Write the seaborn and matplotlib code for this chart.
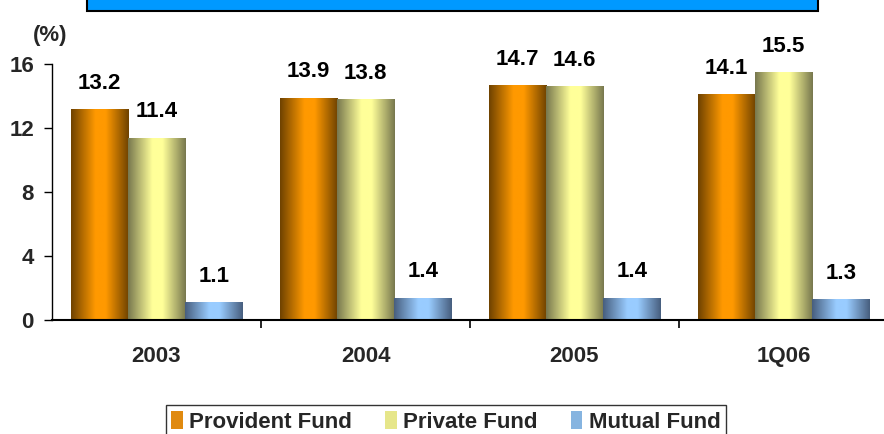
import numpy as np
import pandas as pd
import matplotlib
matplotlib.use("Agg")
import matplotlib.pyplot as plt
from matplotlib.colors import LinearSegmentedColormap
from matplotlib.patches import Rectangle
import seaborn as sns

categories = ["2003", "2004", "2005", "1Q06"]
series_names = ["Provident Fund", "Private Fund", "Mutual Fund"]
provident = [13.2, 13.9, 14.7, 14.1]
private = [11.4, 13.8, 14.6, 15.5]
mutual = [1.1, 1.4, 1.4, 1.3]
y_ticks = [0, 4, 8, 12, 16]

df = pd.DataFrame({
    "Year": categories * 3,
    "Fund": [series_names[0]] * 4 + [series_names[1]] * 4 + [series_names[2]] * 4,
    "Value": provident + private + mutual,
})

dark = {"Provident Fund": "#6E4200", "Private Fund": "#77774E", "Mutual Fund": "#475E7E"}
light = {"Provident Fund": "#FF9900", "Private Fund": "#FFFF99", "Mutual Fund": "#99CCFF"}
mid = {"Provident Fund": "#E08A10", "Private Fund": "#E6E68A", "Mutual Fund": "#86B4E0"}

sns.set_theme(style="white")
plt.rcParams["font.family"] = ["Liberation Sans", "DejaVu Sans"]
plt.rcParams["font.weight"] = "bold"

FS = 16

fig = plt.figure(figsize=(8.84, 4.34), dpi=100)
W, H = 884, 434
ax = fig.add_axes([52 / W, (H - 320) / H, 836 / W, 256 / H])

sns.barplot(data=df, x="Year", y="Value", hue="Fund", order=categories,
            hue_order=series_names, palette=mid, width=0.82, dodge=True,
            ax=ax, legend=False, errorbar=None, saturation=1)

ax.set_xlim(-0.5, 3.5)
ax.set_ylim(0, 16)

# gradient fill for each bar
grad = np.linspace(0, 1, 256).reshape(1, -1)
for container, name in zip(ax.containers, series_names):
    cmap = LinearSegmentedColormap.from_list(
        name, [(0, dark[name]), (0.42, light[name]), (0.6, light[name]), (1, dark[name])])
    for bar, val in zip(container, container.datavalues):
        x0, y0 = bar.get_x(), bar.get_y()
        w, h = bar.get_width(), bar.get_height()
        im = ax.imshow(grad, cmap=cmap, aspect="auto", extent=[x0, x0 + w, y0, y0 + h],
                       zorder=bar.get_zorder(), interpolation="bilinear")
        im.set_clip_path(bar)
        bar.set_facecolor("none")
        bar.set_edgecolor("none")
        ax.annotate(f"{val:.1f}", (x0 + w / 2, y0 + h), xytext=(0, 11),
                    textcoords="offset points", ha="center", va="bottom",
                    fontsize=FS, fontweight="bold", color="black")
ax.set_xlim(-0.5, 3.5)
ax.set_ylim(0, 16)

# axes styling
for s in ["top", "right"]:
    ax.spines[s].set_visible(False)
ax.spines["left"].set_color("black")
ax.spines["bottom"].set_color("black")
ax.spines["left"].set_linewidth(1.0)
ax.spines["bottom"].set_linewidth(1.5)

ax.set_yticks(y_ticks)
ax.set_yticklabels([str(t) for t in y_ticks], fontsize=FS, fontweight="bold")
ax.tick_params(axis="y", direction="out", length=6, width=1, color="black", pad=7, left=True)

ax.set_xticks(range(len(categories)))
ax.set_xticklabels(categories, fontsize=FS, fontweight="bold")
ax.set_xticks([0.5, 1.5, 2.5, 3.5], minor=True)
ax.tick_params(axis="x", which="major", length=0, pad=19)
ax.tick_params(axis="x", which="minor", direction="out", length=6, width=1.2,
               color="black", bottom=True)
ax.set_xlabel("")
ax.set_ylabel("")
ax.grid(False)

# "(%)" label
fig.text(50 / W, 1 - 36 / H, "(%)", ha="center", va="center", fontsize=FS, fontweight="bold")

# top blue banner
fig.patches.append(Rectangle((87 / W, 1 - 11 / H), 731 / W, 14 / H, transform=fig.transFigure,
                             facecolor="#0099FF", edgecolor="black", linewidth=1.5, zorder=5))

# legend
handles = [Rectangle((0, 0), 1, 1, facecolor=mid[n], edgecolor="none") for n in series_names]
leg = fig.legend(handles, series_names, loc="upper center", bbox_to_anchor=(446 / W, 1 - 394 / H),
                 ncol=3, frameon=True, handlelength=0.5, handleheight=0.9,
                 handletextpad=0.3, columnspacing=1.5, borderpad=0.25, fancybox=False,
                 prop={"weight": "bold", "size": 16})
leg.get_frame().set_edgecolor("black")
leg.get_frame().set_linewidth(1.0)

fig.savefig("out.png", dpi=100)
